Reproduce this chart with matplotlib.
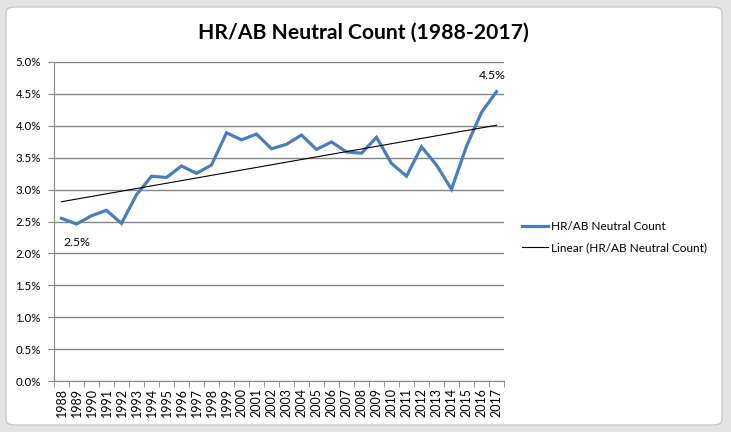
import numpy as np
import matplotlib
matplotlib.use("Agg")
import matplotlib.pyplot as plt
from matplotlib.patches import FancyBboxPatch
from matplotlib.ticker import FixedLocator, PercentFormatter

years = [str(y) for y in range(1988, 2018)]
hr_ab = [2.55, 2.46, 2.59, 2.675, 2.47, 2.92, 3.21, 3.19, 3.37, 3.255,
         3.385, 3.89, 3.78, 3.87, 3.64, 3.71, 3.855, 3.63, 3.746, 3.59,
         3.57, 3.82, 3.41, 3.21, 3.67, 3.385, 3.005, 3.68, 4.21, 4.535]
yticks = [0.0, 0.5, 1.0, 1.5, 2.0, 2.5, 3.0, 3.5, 4.0, 4.5, 5.0]
title = "HR/AB Neutral Count (1988-2017)"
series_name = "HR/AB Neutral Count"
trend_name = "Linear (HR/AB Neutral Count)"

plt.rcParams['font.family'] = ['Lato', 'DejaVu Sans']

W, H = 731, 432
fig = plt.figure(figsize=(W/100, H/100), dpi=100, facecolor='#e3e3e3')
bg = FancyBboxPatch((6/W, 7/H), 716/W, 418/H, boxstyle="round,pad=0,rounding_size=0.012",
                    transform=fig.transFigure, facecolor='white', edgecolor='#c8c8c8', lw=1,
                    zorder=-10)
fig.patches.append(bg)

ax = fig.add_axes([54/W, (H-381)/H, 450/W, 319/H])
ax.set_facecolor('none')
x = np.arange(len(years))
ax.plot(x, hr_ab, color='#4a7ebb', lw=2.3, solid_joinstyle='miter', label=series_name, zorder=3)
coef = np.polyfit(x, hr_ab, 1)
ax.plot(x, np.polyval(coef, x), color='black', lw=0.8, label=trend_name, zorder=4)

ax.set_xlim(-0.5, len(years) - 0.5)
ax.set_ylim(0, 5.0)
ax.set_yticks(yticks)
ax.yaxis.set_major_formatter(PercentFormatter(decimals=1))
ax.yaxis.grid(True, color='#868686', lw=1)
ax.set_axisbelow(True)
ax.set_xticks(x)
ax.set_xticklabels(years, rotation=90, fontsize=9)
ax.xaxis.set_minor_locator(FixedLocator(np.arange(-0.5, len(years), 1)))
ax.tick_params(axis='x', which='major', length=0, pad=5)
ax.tick_params(axis='x', which='minor', length=4, color='#868686')
ax.tick_params(axis='y', length=4, color='#868686', labelsize=8.3, pad=5.5)
for s in ['top', 'right']:
    ax.spines[s].set_visible(False)
for s in ['left', 'bottom']:
    ax.spines[s].set_color('#868686')

ax.annotate(f"{hr_ab[1]:.1f}%", (x[1], hr_ab[1]), xytext=(0, -13.5), textcoords='offset points',
            ha='center', va='center', fontsize=8.8)
ax.annotate(f"{hr_ab[-1]:.1f}%", (x[-1], hr_ab[-1]), xytext=(-3, 11.5), textcoords='offset points',
            ha='center', va='center', fontsize=8.8)

fig.text(363/W, 1 - 33/H, title, ha='center', va='center', fontsize=15.2, fontweight='bold')

fig.legend(loc='center left', bbox_to_anchor=(511/W, 1 - 237/H), frameon=False, fontsize=8.5,
           handlelength=2.2, labelspacing=0.9, handletextpad=0.3)

fig.savefig('out.png', dpi=100, facecolor=fig.get_facecolor())
